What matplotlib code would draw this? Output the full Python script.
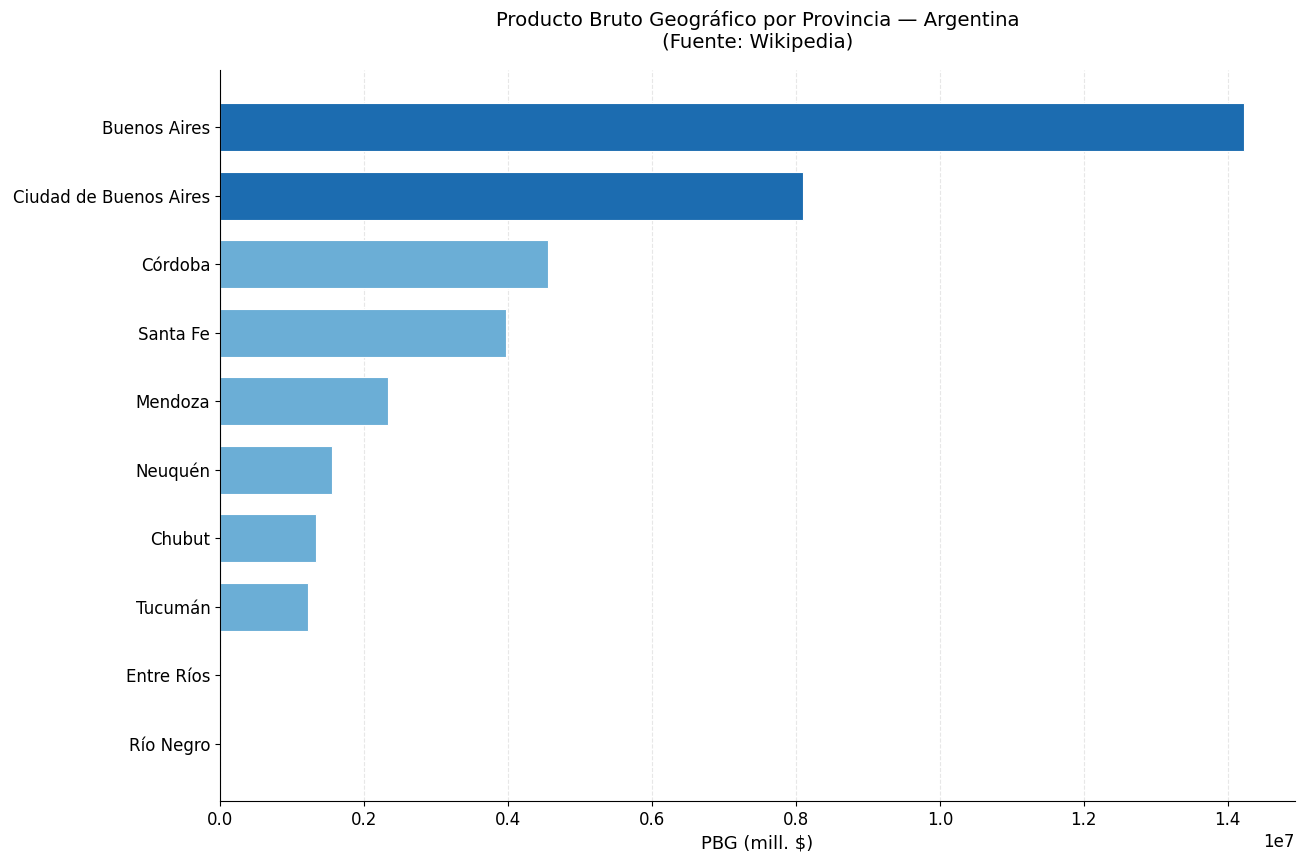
import matplotlib.pyplot as plt

# Datos (PBG en millones de $)
provincias = ['Buenos Aires', 'Ciudad de Buenos Aires', 'Córdoba', 'Santa Fe',
              'Mendoza', 'Neuquén', 'Chubut', 'Tucumán', 'Entre Ríos', 'Río Negro']
pbg = [14222000, 8105000, 4560000, 3976000, 2336000, 1557000, 1335000, 1223000, 0, 0]
destacadas = ['Buenos Aires', 'Ciudad de Buenos Aires']

colores = ['#1c6cb0' if p in destacadas else '#6baed6' for p in provincias]

fig = plt.figure(figsize=(13.05, 8.65), dpi=100)
ax = fig.add_axes([0.1686, 0.074, 0.8237, 0.845])

ax.barh(provincias, pbg, height=0.7, color=colores, edgecolor='white', linewidth=0.8, zorder=2)
ax.invert_yaxis()

ax.set_title('Producto Bruto Geográfico por Provincia — Argentina\n(Fuente: Wikipedia)',
             fontsize=14.2, pad=16)
ax.set_xlabel('PBG (mill. $)', fontsize=13)
ax.tick_params(labelsize=12)
ax.xaxis.get_offset_text().set_fontsize(12)
ax.grid(axis='x', linestyle='--', alpha=0.3, zorder=0)
ax.spines['top'].set_visible(False)
ax.spines['right'].set_visible(False)

fig.savefig('out.png', dpi=100)
